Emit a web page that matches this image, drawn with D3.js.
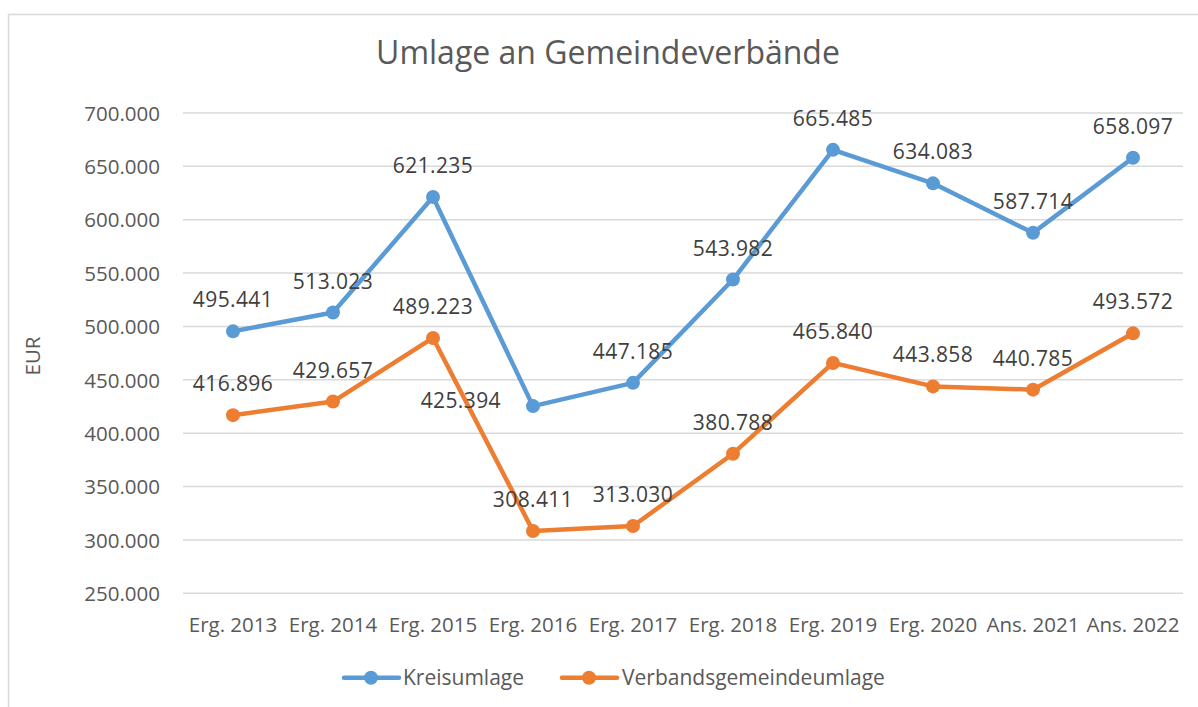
<!DOCTYPE html>
<html><head><meta charset="utf-8">
<script src="https://cdn.jsdelivr.net/npm/d3@7"></script>
<style>html,body{margin:0;padding:0;background:#fff;}svg{display:block;}</style>
</head><body>
<svg id="chart" width="1198" height="707"></svg>
<script>
const categories = ["Erg. 2013","Erg. 2014","Erg. 2015","Erg. 2016","Erg. 2017","Erg. 2018","Erg. 2019","Erg. 2020","Ans. 2021","Ans. 2022"];
const kreisumlage = [495441,513023,621235,425394,447185,543982,665485,634083,587714,658097];
const verbandsumlage = [416896,429657,489223,308411,313030,380788,465840,443858,440785,493572];
const yTicks = [250000,300000,350000,400000,450000,500000,550000,600000,650000,700000];
const seriesNames = ["Kreisumlage","Verbandsgemeindeumlage"];
const seriesColors = ["#5B9BD5","#ED7D31"];
// data label placement (Excel style): "above" or "left"
const kreisLabelPos = ["above","above","above","left","above","above","above","above","above","above"];
const verbLabelPos  = ["above","above","above","above","above","above","above","above","above","above"];

const fmt = v => d3.format(",")(v).replace(/,/g,".");
const font = "'Open Sans', 'Liberation Sans', sans-serif";
const fs = 20.5;
const svg = d3.select("#chart");

svg.append("rect").attr("x",8.5).attr("y",14.5).attr("width",1250).attr("height",750)
  .attr("fill","#fff").attr("stroke","#d9d9d9").attr("stroke-width",1.5);

const x = d3.scaleBand().domain(categories).range([183,1183]);
const y = d3.scaleLinear().domain([250000,700000]).range([593.3,113]);

// gridlines
svg.append("g").selectAll("line").data(yTicks).join("line")
  .attr("x1",183).attr("x2",1183)
  .attr("y1",d=>y(d)).attr("y2",d=>y(d))
  .attr("stroke","#d9d9d9").attr("stroke-width",1.5);

// y axis
const yAxis = svg.append("g").attr("transform","translate(183,0)")
  .call(d3.axisLeft(y).tickValues(yTicks).tickFormat(fmt).tickSize(0).tickPadding(23));
yAxis.select(".domain").remove();
yAxis.selectAll("text").attr("font-family",font).attr("font-size",fs).attr("fill","#595959").attr("dy","0.35em");

// x axis
const xAxis = svg.append("g").attr("transform","translate(0,593.3)")
  .call(d3.axisBottom(x).tickSize(0));
xAxis.select(".domain").remove();
xAxis.selectAll("text").attr("font-family",font).attr("font-size",fs).attr("fill","#595959")
  .attr("y",38.5).attr("dy",0);

// title
svg.append("text").attr("x",608).attr("y",64).attr("text-anchor","middle")
  .attr("font-family",font).attr("font-size",32).attr("fill","#595959")
  .text("Umlage an Gemeindeverbände");

// y axis title
svg.append("text").attr("transform","translate(40,356) rotate(-90)").attr("text-anchor","middle")
  .attr("font-family",font).attr("font-size",fs).attr("fill","#595959").text("EUR");

const cx = d => x(d) + x.bandwidth()/2;
const allSeries = [kreisumlage, verbandsumlage];
const allPos = [kreisLabelPos, verbLabelPos];
const line = d3.line().x((d,i)=>cx(categories[i])).y(d=>y(d));

allSeries.forEach((vals,si)=>{
  const g = svg.append("g");
  g.append("path").datum(vals).attr("d",line).attr("fill","none")
    .attr("stroke",seriesColors[si]).attr("stroke-width",4.5).attr("stroke-linejoin","round").attr("stroke-linecap","round");
  g.selectAll("circle").data(vals).join("circle")
    .attr("cx",(d,i)=>cx(categories[i])).attr("cy",d=>y(d)).attr("r",7)
    .attr("fill",seriesColors[si]);
});
allSeries.forEach((vals,si)=>{
  const pos = allPos[si];
  svg.append("g").selectAll("text").data(vals).join("text")
    .attr("x",(d,i)=>pos[i]==="left" ? cx(categories[i])-32 : cx(categories[i]))
    .attr("y",(d,i)=>pos[i]==="left" ? y(d)+2 : y(d)-24)
    .attr("text-anchor",(d,i)=>pos[i]==="left" ? "end" : "middle")
    .attr("font-family",font).attr("font-size",21).attr("fill","#404040")
    .attr("letter-spacing",0.4)
    .text(fmt);
});

// legend
const legendItems = [{x:344, tx:403},{x:562, tx:622}];
legendItems.forEach((it,i)=>{
  const g = svg.append("g");
  g.append("line").attr("x1",it.x).attr("x2",it.x+55).attr("y1",677.7).attr("y2",677.7)
    .attr("stroke",seriesColors[i]).attr("stroke-width",4.5).attr("stroke-linecap","round");
  g.append("circle").attr("cx",it.x+27).attr("cy",677.7).attr("r",7).attr("fill",seriesColors[i]);
  g.append("text").attr("x",it.tx).attr("y",685).attr("font-family",font).attr("font-size",21)
    .attr("fill","#595959").text(seriesNames[i]);
});
</script>
</body></html>
